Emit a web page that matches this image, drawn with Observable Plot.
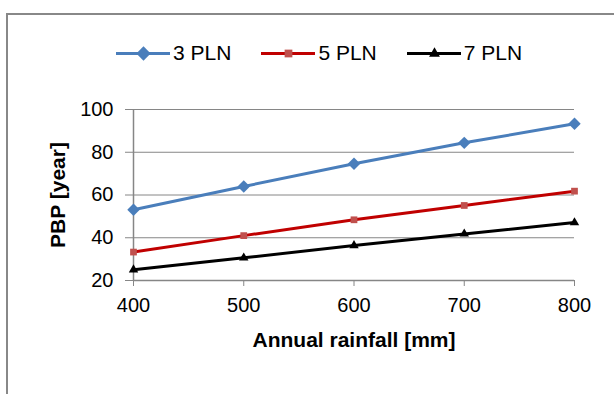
<!DOCTYPE html>
<html>
<head>
<meta charset="utf-8">
<script src="https://cdn.jsdelivr.net/npm/d3@7"></script>
<script src="https://cdn.jsdelivr.net/npm/@observablehq/plot@0.6"></script>
<style>
  html, body { margin: 0; padding: 0; background: #fff; }
  #wrap { position: relative; width: 614px; height: 394px; overflow: hidden; font-family: "Liberation Sans", Arial, sans-serif; }
  #frame { position: absolute; left: 6px; top: 13px; width: 700px; height: 500px; border-top: 2px solid #888; border-left: 2px solid #888; }
  #legend { position: absolute; left: 116px; top: 41px; height: 24px; display: flex; align-items: center; font-size: 21px; line-height: 24px; color: #000; }
  .item { display: flex; align-items: center; margin-right: 30px; }
  .item svg { display: block; margin-right: 3px; }
  #chart { position: absolute; left: 0; top: 0; }
</style>
</head>
<body>
<div id="wrap">
  <div id="frame"></div>
  <div id="chart"></div>
  <div id="legend"></div>
</div>
<script>
const rainfall = [400, 500, 600, 700, 800];
const seriesNames = ["3 PLN", "5 PLN", "7 PLN"];
const pln3 = [53.1, 64.0, 74.6, 84.4, 93.3];
const pln5 = [33.3, 41.0, 48.4, 55.1, 61.8];
const pln7 = [25.0, 30.6, 36.4, 41.8, 47.1];
const yTicks = [20, 40, 60, 80, 100];
const xTicks = [400, 500, 600, 700, 800];

const styles = {
  "3 PLN": {line: "#4a7ebb", fill: "#4a7ebb", symbol: "diamond2", r: 5.6},
  "5 PLN": {line: "#c00000", fill: "#c0504d", symbol: "square", r: 3.8},
  "7 PLN": {line: "#000000", fill: "#000000", symbol: "triangle2", r: 4.5}
};

const valuesBySeries = [pln3, pln5, pln7];
const data = [];
seriesNames.forEach((s, i) => rainfall.forEach((x, j) => data.push({series: s, x, y: valuesBySeries[i][j]})));

const marks = [
  Plot.gridY(yTicks.slice(1), {stroke: "#868686", strokeOpacity: 1, strokeWidth: 1}),
  Plot.ruleY([20], {stroke: "#868686", strokeWidth: 1.5}),
  Plot.ruleX([400], {stroke: "#868686", strokeWidth: 1.5}),
  Plot.axisY({ticks: yTicks, tickSize: 8, tickPadding: 12, fontSize: 20, stroke: "#868686", label: "PBP [year]", labelAnchor: "center", labelOffset: 83, labelArrow: "none"}),
  Plot.axisX({ticks: xTicks, tickSize: 6, tickPadding: 11, fontSize: 20, stroke: "#868686", label: "Annual rainfall [mm]", labelAnchor: "center", labelOffset: 66, labelArrow: "none"})
];
seriesNames.forEach(s => {
  const st = styles[s];
  const d = data.filter(e => e.series === s);
  marks.push(Plot.line(d, {x: "x", y: "y", stroke: st.line, strokeWidth: 3}));
  marks.push(Plot.dot(d, {x: "x", y: "y", fill: st.fill, stroke: "none", symbol: st.symbol, r: st.r}));
});

const chart = Plot.plot({
  width: 614,
  height: 394,
  marginLeft: 133,
  marginRight: 40,
  marginTop: 109,
  marginBottom: 114,
  style: {fontSize: "20px", fontFamily: "'Liberation Sans', Arial, sans-serif", color: "#000", background: "transparent", overflow: "visible"},
  x: {domain: [400, 800]},
  y: {domain: [20, 100]},
  marks
});
chart.querySelectorAll('[aria-label="y-axis label"] text, [aria-label="x-axis label"] text').forEach(t => {
  t.setAttribute("font-weight", "bold");
  t.setAttribute("font-size", "21");
});
chart.querySelectorAll('[aria-label="y-axis label"], [aria-label="x-axis label"]').forEach(g => {
  g.setAttribute("font-weight", "bold");
  g.setAttribute("font-size", "21");
});
document.getElementById("chart").appendChild(chart);

// legend
const legend = document.getElementById("legend");
seriesNames.forEach(s => {
  const st = styles[s];
  const item = document.createElement("div");
  item.className = "item";
  const sw = Plot.plot({
    width: 54, height: 14, margin: 0,
    x: {domain: [0, 1], axis: null}, y: {domain: [0, 1], axis: null},
    style: {background: "transparent", overflow: "visible"},
    marks: [
      Plot.ruleY([0.5], {x1: 0, x2: 1, stroke: st.line, strokeWidth: 3}),
      Plot.dot([{x: 0.5, y: 0.5}], {x: "x", y: "y", fill: st.fill, stroke: "none", symbol: st.symbol, r: st.r * 1.15})
    ]
  });
  item.appendChild(sw);
  const label = document.createElement("span");
  label.textContent = s;
  item.appendChild(label);
  legend.appendChild(item);
});
</script>
</body>
</html>
